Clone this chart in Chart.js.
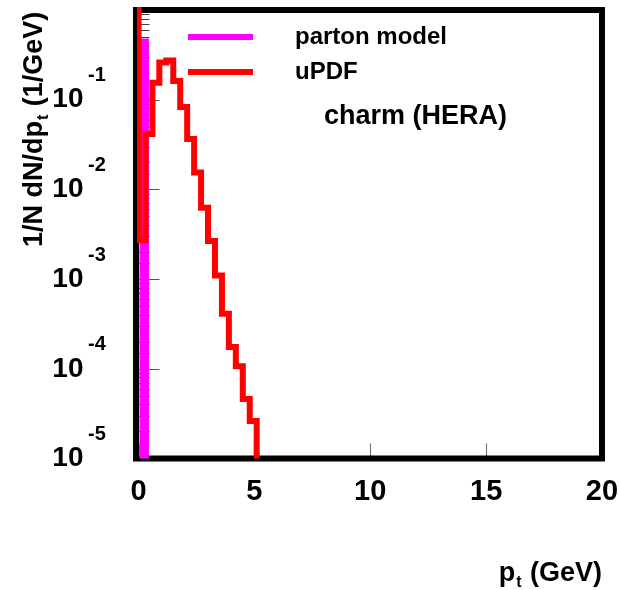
<!DOCTYPE html>
<html>
<head>
<meta charset="utf-8">
<script src="https://cdn.jsdelivr.net/npm/chart.js@4/dist/chart.umd.min.js"></script>
<style>
html,body{margin:0;padding:0;background:#fff;}
canvas{display:block;}
</style>
</head>
<body>
<canvas id="c" width="620" height="590"></canvas>
<script>
// ---- data ----
const xTickValues = [0, 5, 10, 15, 20];
const yExponents = [-1, -2, -3, -4, -5];
const yTickLabel = '10';

const partonLabel = 'parton model';
const partonEdges = [0, 0.3];
const partonValues = [0.44];

const uPDFLabel = 'uPDF';
const uPDFEdges = [0, 0.3, 0.6, 0.9, 1.2, 1.5, 1.8, 2.1, 2.4, 2.7, 3.0, 3.3, 3.6, 3.9, 4.2, 4.5, 4.8, 5.1];
const uPDFValues = [2.73e-3, 0.0415, 0.155, 0.26, 0.274, 0.162, 0.083, 0.0365, 0.0154, 6.25e-3,
                    2.66e-3, 1.10e-3, 4.11e-4, 1.75e-4, 1.07e-4, 4.6e-5, 2.62e-5];
const uPDFSpikeAtZero = 2;          // off-scale value at pt = 0

const annotationText = 'charm (HERA)';
const xTitle = ['p', 't', ' (GeV)'];
const yTitle = ['1/N dN/dp', 't', ' (1/GeV)'];

const Y_MIN = 1e-5, Y_MAX = 1, X_MIN = 0, X_MAX = 20;
const FLOOR = 1e-7;

// ---- build step histogram points ----
function histPoints(edges, values, startValue) {
  const pts = [{x: edges[0], y: startValue}];
  for (let i = 0; i < values.length; i++) pts.push({x: edges[i], y: values[i]});
  pts.push({x: edges[edges.length - 1], y: FLOOR});
  return pts;
}

const FONT = '"Liberation Sans", Arial, Helvetica, sans-serif';

const decorPlugin = {
  id: 'decor',
  beforeDatasetsDraw(chart) {
    const {ctx, chartArea: a, scales} = chart;
    const xs = scales.x, ys = scales.y;
    ctx.save();
    // inner y ticks
    ys.ticks.forEach(t => {
      const lg = Math.log10(t.value);
      const major = Math.abs(lg - Math.round(lg)) < 1e-6;
      const py = Math.round(ys.getPixelForValue(t.value)) + 0.5;
      ctx.beginPath();
      ctx.strokeStyle = major ? '#555' : '#444';
      ctx.lineWidth = 1;
      ctx.moveTo(a.left, py);
      ctx.lineTo(a.left + (major ? 21 : 11), py);
      ctx.stroke();
    });
    // inner x ticks
    xs.ticks.forEach(t => {
      const px = Math.round(xs.getPixelForValue(t.value)) + 0.5;
      ctx.beginPath();
      ctx.strokeStyle = '#777';
      ctx.lineWidth = 1.2;
      ctx.moveTo(px, a.bottom);
      ctx.lineTo(px, a.bottom - 15);
      ctx.stroke();
    });
    // frame
    ctx.strokeStyle = '#000';
    ctx.lineWidth = 6;
    ctx.lineCap = 'square';
    ctx.beginPath();
    ctx.moveTo(a.left - 2.5, a.top);
    ctx.lineTo(a.right, a.top);
    ctx.lineTo(a.right, a.bottom);
    ctx.lineTo(a.left - 2.5, a.bottom);
    ctx.closePath();
    ctx.stroke();
    ctx.restore();
  },
  afterDraw(chart) {
    const {ctx, chartArea: a, scales} = chart;
    const ys = scales.y;
    ctx.save();
    ctx.fillStyle = '#000';
    // y tick exponents
    ctx.font = 'bold 20px ' + FONT;
    ctx.textAlign = 'left';
    ctx.textBaseline = 'middle';
    yExponents.forEach(e => {
      const py = ys.getPixelForValue(Math.pow(10, e));
      ctx.fillText(String(e), 88, py - 24);
    });
    // legend
    const ds = chart.data.datasets;
    const legendRows = [37, 72];
    ds.forEach((d, i) => {
      const y = legendRows[i];
      ctx.beginPath();
      ctx.strokeStyle = d.borderColor;
      ctx.lineWidth = 6;
      ctx.lineCap = 'butt';
      ctx.moveTo(188, y);
      ctx.lineTo(253, y);
      ctx.stroke();
      ctx.font = 'bold 24px ' + FONT;
      ctx.textBaseline = 'middle';
      ctx.fillText(d.label, 295, y);
    });
    // annotation
    ctx.font = 'bold 27px ' + FONT;
    ctx.fillText(annotationText, 324, 117);
    // x title (right aligned at frame right)
    ctx.textBaseline = 'alphabetic';
    const bigX = 'bold 27px ' + FONT, smallX = 'bold 16px ' + FONT;
    ctx.font = bigX; const w0 = ctx.measureText(xTitle[0]).width;
    const w2 = ctx.measureText(xTitle[2]).width;
    ctx.font = smallX; const w1 = ctx.measureText(xTitle[1]).width;
    let x = 602 - (w0 + w1 + 2 + w2);
    const base = 581;
    ctx.font = bigX; ctx.fillText(xTitle[0], x, base); x += w0 + 1;
    ctx.font = smallX; ctx.fillText(xTitle[1], x, base + 6); x += w1 + 1;
    ctx.font = bigX; ctx.fillText(xTitle[2], x, base);
    // y title rotated
    ctx.save();
    ctx.translate(42, 247);
    ctx.rotate(-Math.PI / 2);
    const bigY = 'bold 27px ' + FONT, smallY = 'bold 16px ' + FONT;
    let yx = 0;
    ctx.font = bigY; ctx.fillText(yTitle[0], yx, 0); yx += ctx.measureText(yTitle[0]).width + 1;
    ctx.font = smallY; ctx.fillText(yTitle[1], yx, 6); yx += ctx.measureText(yTitle[1]).width + 1;
    ctx.font = bigY; ctx.fillText(yTitle[2], yx, 0);
    ctx.restore();
    ctx.restore();
  }
};

new Chart(document.getElementById('c'), {
  type: 'line',
  data: {
    datasets: [
      {
        label: partonLabel,
        data: histPoints(partonEdges, partonValues, FLOOR),
        borderColor: '#ff00ff',
        borderWidth: 7,
        stepped: 'before',
        pointRadius: 0,
        fill: false,
        borderJoinStyle: 'miter',
        borderCapStyle: 'butt',
        clip: {left: -1, top: 0, right: 0, bottom: 0},
        order: 2
      },
      {
        label: uPDFLabel,
        data: histPoints(uPDFEdges, uPDFValues, uPDFSpikeAtZero),
        borderColor: '#ff0000',
        borderWidth: 6,
        stepped: 'before',
        pointRadius: 0,
        fill: false,
        borderJoinStyle: 'miter',
        borderCapStyle: 'butt',
        clip: {left: 1.5, top: 3, right: 0, bottom: 0},
        order: 1
      }
    ]
  },
  options: {
    responsive: false,
    animation: false,
    devicePixelRatio: 1,
    layout: {padding: {left: 0, right: 18, top: 10, bottom: 0}},
    plugins: {legend: {display: false}, tooltip: {enabled: false}, title: {display: false}},
    scales: {
      x: {
        type: 'linear',
        min: X_MIN, max: X_MAX,
        afterBuildTicks: s => { s.ticks = xTickValues.map(v => ({value: v})); },
        afterFit: s => { s.height = 131.5; s.paddingLeft = 0; s.paddingRight = 0; },
        grid: {display: false, drawTicks: false},
        border: {display: false},
        ticks: {
          color: '#000',
          font: {family: FONT, size: 29, weight: 'bold'},
          padding: 16,
          maxRotation: 0,
          autoSkip: false
        }
      },
      y: {
        type: 'logarithmic',
        min: Y_MIN, max: Y_MAX,
        afterFit: s => { s.width = 138.5; s.paddingTop = 0; s.paddingBottom = 0; },
        grid: {display: false, drawTicks: false},
        border: {display: false},
        ticks: {
          color: '#000',
          autoSkip: false,
          font: {family: FONT, size: 28, weight: 'bold'},
          padding: 55,
          callback: (v) => {
            const lg = Math.log10(v);
            const r = Math.round(lg);
            if (Math.abs(lg - r) < 1e-6 && yExponents.includes(r)) return yTickLabel;
            return '';
          }
        }
      }
    }
  },
  plugins: [decorPlugin]
});
</script>
</body>
</html>
